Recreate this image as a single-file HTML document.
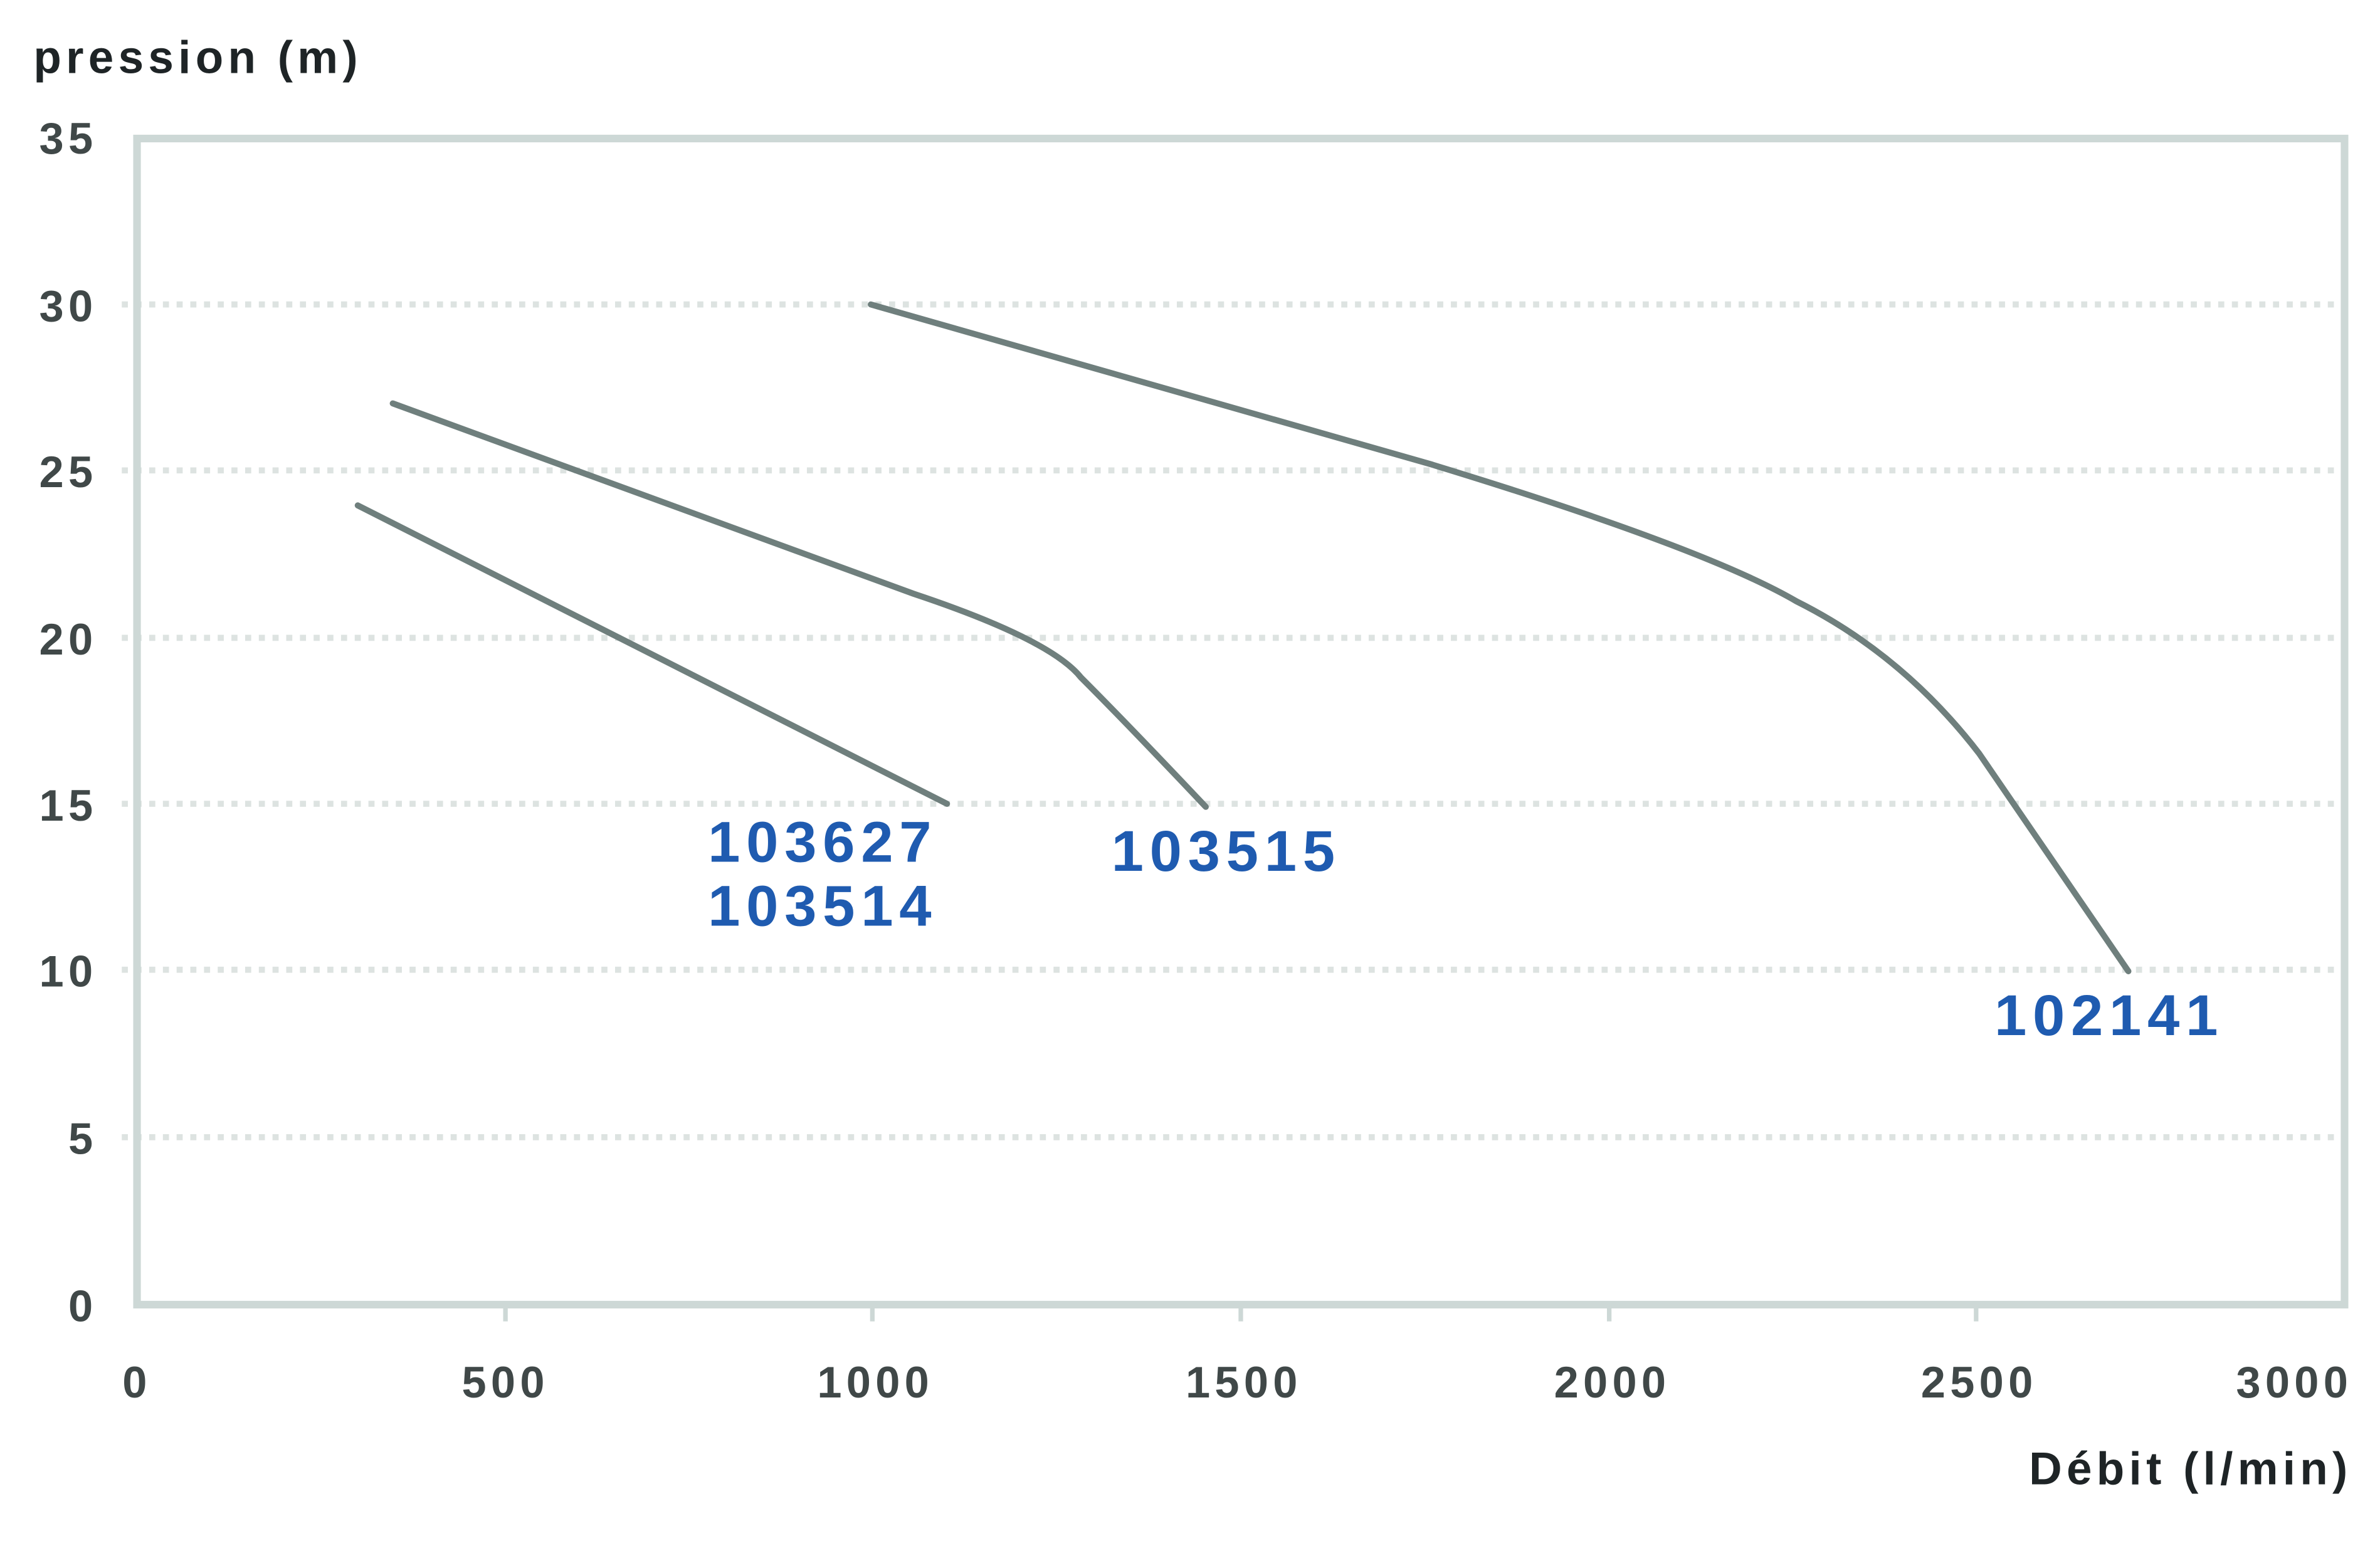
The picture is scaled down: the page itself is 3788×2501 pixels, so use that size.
<!DOCTYPE html>
<html><head><meta charset="utf-8"><style>
html,body{margin:0;padding:0;background:#fff}
svg{display:block}
text{font-family:"Liberation Sans",sans-serif;font-weight:bold}
</style></head><body>
<svg width="3788" height="2501" viewBox="0 0 1560 1030" preserveAspectRatio="none" xmlns="http://www.w3.org/2000/svg">
<rect width="1560" height="1030" fill="#fff"/>
<g stroke="#dde3e1" stroke-width="4" stroke-dasharray="4 5">
<line x1="80" y1="200" x2="1538" y2="200"/>
<line x1="80" y1="309" x2="1538" y2="309"/>
<line x1="80" y1="419" x2="1538" y2="419"/>
<line x1="80" y1="528" x2="1538" y2="528"/>
<line x1="80" y1="637" x2="1538" y2="637"/>
<line x1="80" y1="747" x2="1538" y2="747"/>
</g>
<rect x="90" y="91" width="1450" height="766" fill="none" stroke="#cdd8d6" stroke-width="5"/>
<g stroke="#cdd8d6" stroke-width="3">
<line x1="332" y1="857" x2="332" y2="868"/><line x1="573" y1="857" x2="573" y2="868"/>
<line x1="815" y1="857" x2="815" y2="868"/><line x1="1057" y1="857" x2="1057" y2="868"/>
<line x1="1298" y1="857" x2="1298" y2="868"/>
</g>
<g fill="none" stroke="#6f7f7d" stroke-width="4" stroke-linecap="round">
<path d="M235,332 L622,528"/>
<path d="M258,265 L600,390 Q690,420 710,445 Q740,475 792,530"/>
<path d="M572,200 L940,305 Q1120,360 1180,395 Q1250,430 1300,495 L1398,638"/>
</g>
<g fill="#404848" font-size="29" text-anchor="end" letter-spacing="3">
<text x="64" y="101">35</text><text x="64" y="211">30</text><text x="64" y="320">25</text>
<text x="64" y="430">20</text><text x="64" y="539">15</text><text x="64" y="648">10</text>
<text x="64" y="758">5</text><text x="64" y="868">0</text>
</g>
<g fill="#404848" font-size="29" text-anchor="middle" letter-spacing="3">
<text x="90" y="918">0</text><text x="332" y="918">500</text><text x="575" y="918">1000</text>
<text x="817" y="918">1500</text><text x="1059" y="918">2000</text><text x="1300" y="918">2500</text>
<text x="1507" y="918">3000</text>
</g>
<text x="22" y="48" font-size="30" fill="#1e2426" letter-spacing="3">pression (m)</text>
<text x="1545" y="975" font-size="30" fill="#1e2426" text-anchor="end" letter-spacing="3">Débit (l/min)</text>
<g fill="#1f5bb0" font-size="38" letter-spacing="4">
<text x="465" y="566">103627</text>
<text x="465" y="608">103514</text>
<text x="730" y="572">103515</text>
<text x="1310" y="680">102141</text>
</g>
</svg>
</body></html>
